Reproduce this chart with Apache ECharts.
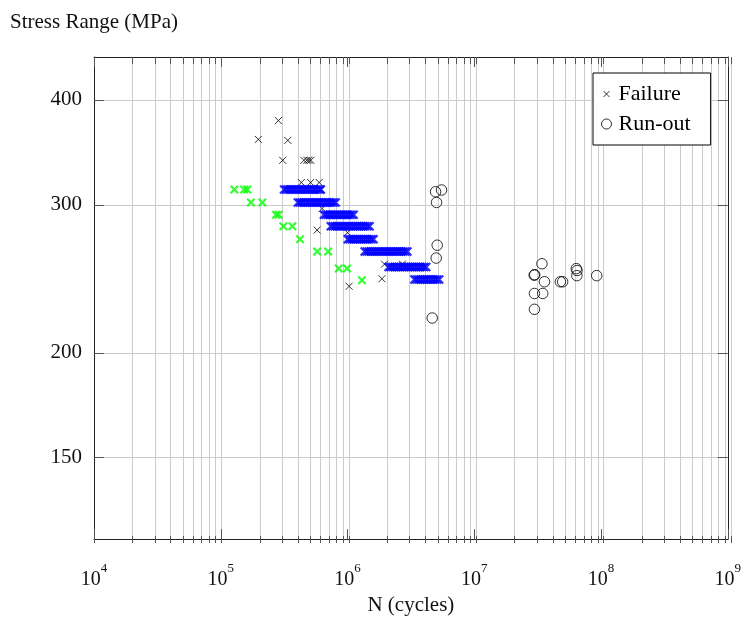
<!DOCTYPE html>
<html>
<head>
<meta charset="utf-8">
<script src="https://cdn.jsdelivr.net/npm/echarts@6/dist/echarts.min.js"></script>
<style>
  html, body { margin: 0; padding: 0; background: #fff; }
  #chart { width: 744px; height: 621px; }
</style>
</head>
<body>
<div id="chart"></div>
<script>
// S-N fatigue data: each point is [cycles N, stress range in MPa]
const failurePoints = [
  [2.85e5, 378], [1.98e5, 359], [3.38e5, 358], [3.08e5, 339],
  [4.53e5, 339], [4.78e5, 339], [4.96e5, 339], [5.14e5, 339],
  [4.32e5, 319], [5.12e5, 319], [5.98e5, 319], [6.31e5, 297],
  [5.76e5, 280], [1.0e6, 278], [1.96e6, 255], [2.71e6, 255],
  [1.87e6, 245], [1.03e6, 240]
];

const greenPoints = [
  [1.28e5, 313], [1.53e5, 313], [1.62e5, 313], [1.73e5, 302], [2.13e5, 302],
  [2.73e5, 292], [2.86e5, 292], [3.12e5, 283], [3.67e5, 283], [4.22e5, 273],
  [5.76e5, 264], [7.03e5, 264], [8.53e5, 252], [9.91e5, 252], [1.30e6, 244]
];

// Dense blue runs: one stress level per run with its cycle counts
const blueStress = [313, 302, 292, 283, 273, 264, 253, 244.5];
const blueCycles = [
  [3.16e5, 3.28e5, 3.40e5, 3.52e5, 3.65e5, 3.79e5, 3.93e5, 4.07e5, 4.22e5, 4.37e5,
   4.54e5, 4.70e5, 4.88e5, 5.06e5, 5.24e5, 5.43e5, 5.63e5, 5.84e5, 6.06e5, 6.16e5],
  [4.06e5, 4.21e5, 4.36e5, 4.52e5, 4.69e5, 4.86e5, 5.04e5, 5.23e5, 5.42e5, 5.62e5,
   5.83e5, 6.04e5, 6.26e5, 6.49e5, 6.73e5, 6.98e5, 7.24e5, 7.50e5, 7.78e5, 8.07e5],
  [6.51e5, 6.75e5, 7.00e5, 7.26e5, 7.52e5, 7.80e5, 8.09e5, 8.38e5, 8.69e5, 9.01e5,
   9.35e5, 9.69e5, 1.005e6, 1.042e6, 1.080e6, 1.119e6],
  [7.38e5, 7.66e5, 7.95e5, 8.25e5, 8.56e5, 8.88e5, 9.22e5, 9.57e5, 9.93e5, 1.030e6,
   1.069e6, 1.110e6, 1.152e6, 1.195e6, 1.240e6, 1.287e6, 1.336e6, 1.386e6, 1.439e6, 1.493e6],
  [1.004e6, 1.041e6, 1.079e6, 1.119e6, 1.160e6, 1.203e6, 1.247e6, 1.293e6, 1.341e6, 1.390e6,
   1.441e6, 1.494e6, 1.549e6, 1.606e6],
  [1.365e6, 1.416e6, 1.470e6, 1.525e6, 1.583e6, 1.642e6, 1.704e6, 1.768e6, 1.835e6, 1.904e6,
   1.976e6, 2.050e6, 2.128e6, 2.208e6, 2.291e6, 2.377e6, 2.467e6, 2.560e6, 2.656e6, 2.756e6,
   2.860e6, 2.968e6],
  [2.106e6, 2.184e6, 2.264e6, 2.347e6, 2.434e6, 2.523e6, 2.616e6, 2.712e6, 2.812e6, 2.916e6,
   3.023e6, 3.134e6, 3.250e6, 3.369e6, 3.493e6, 3.622e6, 3.755e6, 3.893e6, 4.036e6, 4.18e6],
  [3.37e6, 3.50e6, 3.63e6, 3.77e6, 3.92e6, 4.07e6, 4.22e6, 4.38e6, 4.55e6, 4.73e6,
   4.91e6, 5.09e6, 5.29e6]
];

const runOutPoints = [
  [4.95e6, 311], [5.52e6, 312.5], [5.04e6, 302], [5.10e6, 268.6], [5.01e6, 259.3],
  [4.66e6, 220], [3.42e7, 255.3], [2.97e7, 247.4], [3.0e7, 247.8], [3.58e7, 243],
  [2.985e7, 235.3], [3.47e7, 235.3], [2.985e7, 225.3], [4.78e7, 243], [4.98e7, 243],
  [6.38e7, 251.9], [6.47e7, 250.6], [6.45e7, 247.1], [9.25e7, 247.1]
];

// Axis ticks
const xMajorTicks = [1e4, 1e5, 1e6, 1e7, 1e8, 1e9];
const xMinorTicks = [];
xMajorTicks.slice(0, -1).forEach(function (d) {
  for (let k = 1; k <= 9; k++) xMinorTicks.push(k * d);
});
xMinorTicks.push(1e9);
const yTicks = [150, 200, 300, 400];

const X_MIN = 1e4, X_MAX = 1e9, Y_MIN = 120, Y_MAX = 450;
const FONT = '"Liberation Serif", "DejaVu Serif", serif';
const CROSS = 'path://M0,0L1,1M1,0L0,1';

const blueData = [];
blueCycles.forEach(function (run, i) {
  run.forEach(function (n) { blueData.push([n, blueStress[i]]); });
});

const plotRect = { left: 94, top: 57, width: 637, height: 486 };
const frameLine = { show: true, lineStyle: { color: '#222', width: 1 } };
const tickStyle = { color: '#555', width: 1 };
const gridStyle = { color: '#cbcbcb', width: 1 };

function logX(extra) {
  return Object.assign({ type: 'log', logBase: 10, min: X_MIN, max: X_MAX }, extra);
}
function logY(extra) {
  return Object.assign({ type: 'log', logBase: 10, min: Y_MIN, max: Y_MAX }, extra);
}

const chart = echarts.init(document.getElementById('chart'), null, { renderer: 'canvas' });

chart.setOption({
  animation: false,
  backgroundColor: '#fff',
  grid: [
    Object.assign({}, plotRect),
    Object.assign({}, plotRect)
  ],
  xAxis: [
    logX({
      gridIndex: 0, position: 'bottom',
      axisLine: frameLine,
      axisTick: { show: true, inside: true, length: 10, customValues: xMajorTicks, lineStyle: tickStyle },
      axisLabel: {
        customValues: xMajorTicks,
        margin: 23,
        formatter: function (v) {
          return '{b|10}{e|' + Math.round(Math.log10(v)) + '}';
        },
        rich: {
          b: { fontFamily: FONT, fontSize: 20, color: '#111', lineHeight: 28, verticalAlign: 'bottom' },
          e: { fontFamily: FONT, fontSize: 13, color: '#111', lineHeight: 12, verticalAlign: 'top' }
        }
      },
      splitLine: { show: false },
      name: 'N (cycles)',
      nameLocation: 'middle',
      nameGap: 50,
      nameTextStyle: { fontFamily: FONT, fontSize: 21, color: '#111' }
    }),
    logX({
      gridIndex: 0, position: 'top',
      axisLine: frameLine,
      axisTick: { show: true, inside: true, length: 10, customValues: xMajorTicks, lineStyle: tickStyle },
      axisLabel: { show: false },
      splitLine: { show: false }
    }),
    logX({
      gridIndex: 1, position: 'bottom',
      axisLine: { show: false },
      axisTick: { show: true, inside: true, length: 7, customValues: xMinorTicks, lineStyle: tickStyle },
      axisLabel: { show: false },
      splitLine: { show: true, lineStyle: gridStyle }
    }),
    logX({
      gridIndex: 1, position: 'top',
      axisLine: { show: false },
      axisTick: { show: true, inside: true, length: 7, customValues: xMinorTicks, lineStyle: tickStyle },
      axisLabel: { show: false },
      splitLine: { show: false }
    })
  ],
  yAxis: [
    logY({
      gridIndex: 0, position: 'left',
      axisLine: frameLine,
      axisTick: { show: true, inside: true, length: 10, customValues: yTicks, lineStyle: tickStyle },
      axisLabel: {
        customValues: yTicks,
        margin: 12,
        fontFamily: FONT, fontSize: 21, color: '#111'
      },
      splitLine: { show: true, lineStyle: gridStyle },
      name: 'Stress Range (MPa)',
      nameLocation: 'end',
      nameGap: 24,
      nameTextStyle: { fontFamily: FONT, fontSize: 21, color: '#111' }
    }),
    logY({
      gridIndex: 0, position: 'right',
      axisLine: frameLine,
      axisTick: { show: true, inside: true, length: 10, customValues: yTicks, lineStyle: tickStyle },
      axisLabel: { show: false },
      splitLine: { show: false }
    }),
    logY({ gridIndex: 1, show: false })
  ],
  legend: {
    orient: 'vertical',
    left: 593,
    top: 73,
    padding: [8, 20, 8, 8],
    itemGap: 4,
    itemWidth: 14,
    itemHeight: 10,
    selectedMode: false,
    backgroundColor: '#fff',
    borderColor: '#000',
    borderWidth: 1,
    borderRadius: 0,
    textStyle: { fontFamily: FONT, fontSize: 22, color: '#000', lineHeight: 26 },
    data: [
      { name: 'Failure', icon: 'path://M-0.35,-0.35M0,0L1,1M1,0L0,1M1.35,1.35',
        itemStyle: { color: '#000', borderColor: '#000', borderWidth: 1 } },
      { name: 'Run-out', icon: 'circle',
        itemStyle: { color: 'rgba(0,0,0,0)', borderColor: '#000', borderWidth: 1 } }
    ]
  },
  series: [
    {
      name: 'Failure', type: 'scatter', xAxisIndex: 0, yAxisIndex: 0,
      symbol: CROSS, symbolSize: 7,
      itemStyle: { color: '#000', borderColor: '#000', borderWidth: 1 },
      data: failurePoints
    },
    {
      name: 'Failure (set B)', type: 'scatter', xAxisIndex: 0, yAxisIndex: 0,
      symbol: CROSS, symbolSize: 7.5,
      itemStyle: { color: '#00ff00', borderColor: '#00ff00', borderWidth: 2.2 },
      data: greenPoints
    },
    {
      name: 'Failure (set C)', type: 'scatter', xAxisIndex: 0, yAxisIndex: 0,
      symbol: CROSS, symbolSize: 8,
      itemStyle: { color: '#0000ff', borderColor: '#0000ff', borderWidth: 2.2 },
      data: blueData
    },
    {
      name: 'Run-out', type: 'scatter', xAxisIndex: 0, yAxisIndex: 0,
      symbol: 'circle', symbolSize: 10.5,
      itemStyle: { color: 'rgba(0,0,0,0)', borderColor: '#000', borderWidth: 1 },
      data: runOutPoints
    }
  ]
});
</script>
</body>
</html>
